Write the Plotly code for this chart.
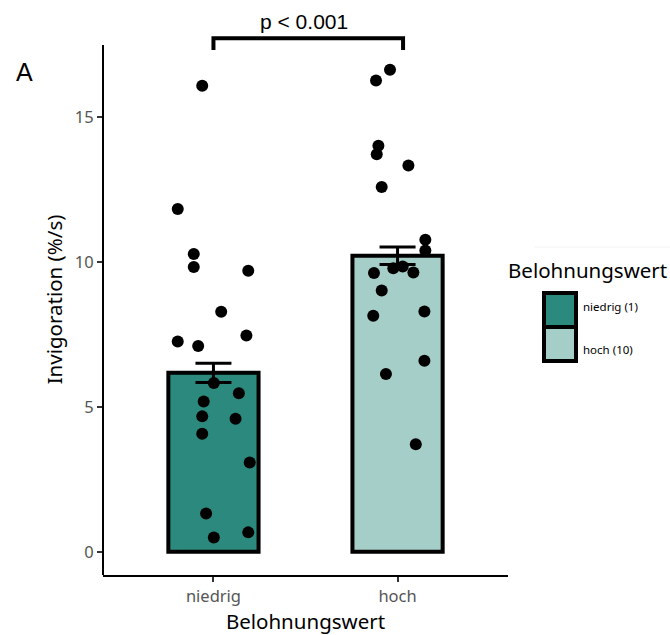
import plotly.graph_objects as go

# ---- data ----
categories = ["niedrig", "hoch"]
legend_labels = ["niedrig (1)", "hoch (10)"]
bar_means = [6.17, 10.21]
bar_se = [0.33, 0.30]
bar_colors = ["#2b8a7d", "#a6cec8"]

niedrig_offset = [-0.061, -0.194, -0.107, -0.107, 0.189, 0.042, -0.194, -0.083, 0.179, 0.002,
                  0.138, -0.053, -0.061, 0.120, -0.061, 0.197, -0.040, 0.189, 0.002]
niedrig_values = [16.07, 11.82, 10.27, 9.82, 9.69, 8.28, 7.25, 7.10, 7.46, 5.82,
                  5.47, 5.18, 4.67, 4.59, 4.07, 3.08, 1.32, 0.67, 0.49]
hoch_offset = [-0.041, -0.117, -0.104, -0.113, 0.059, -0.086, 0.151, 0.151, -0.023, 0.028,
               0.086, -0.128, -0.086, -0.132, 0.146, 0.146, -0.063, 0.099]
hoch_values = [16.62, 16.25, 14.00, 13.71, 13.32, 12.58, 10.76, 10.39, 9.78, 9.84,
               9.63, 9.61, 9.01, 8.14, 8.29, 6.59, 6.13, 3.71]

y_ticks = [0, 5, 10, 15]
p_text = "p < 0.001"
bracket_y = 17.71
bracket_foot = 17.30
bracket_x = [0, 1.03]

# ---- figure ----
W, H = 670, 635
ml, mr, mt, mb = 103, 162, 24, 60
plot_w = W - ml - mr
plot_h = H - mt - mb

def px_x(p):
    return (p - ml) / plot_w

def px_y(p):
    return (H - mb - p) / plot_h

fig = go.Figure()
xpos = list(range(len(categories)))
fig.add_trace(go.Bar(
    x=xpos, y=bar_means, width=0.49,
    marker=dict(color=bar_colors, line=dict(color="black", width=4)),
    error_y=dict(type="data", array=bar_se, visible=True, color="black",
                 thickness=3, width=18),
    showlegend=False, hoverinfo="skip",
))
fig.add_trace(go.Scatter(
    x=[0 + o for o in niedrig_offset], y=niedrig_values, mode="markers",
    marker=dict(color="black", size=12), showlegend=False, cliponaxis=False,
))
fig.add_trace(go.Scatter(
    x=[1 + o for o in hoch_offset], y=hoch_values, mode="markers",
    marker=dict(color="black", size=12), showlegend=False, cliponaxis=False,
))

tick_font = dict(family="Noto Sans, sans-serif", size=16.5, color="#555555")
title_font = dict(family="Noto Sans, sans-serif", size=20.5, color="black")

fig.update_layout(
    width=W, height=H,
    margin=dict(l=ml, r=mr, t=mt, b=mb),
    plot_bgcolor="white", paper_bgcolor="white",
    showlegend=False,
    xaxis=dict(
        range=[-0.6, 1.6], tickvals=xpos, ticktext=categories,
        showgrid=False, zeroline=False,
        showline=True, linecolor="black", linewidth=2,
        ticks="outside", ticklen=5, tickwidth=1.5, tickcolor="#333333",
        tickfont=tick_font,
        title=dict(text="Belohnungswert", font=title_font, standoff=0),
    ),
    yaxis=dict(
        range=[-0.8, 18.2], tickvals=y_ticks,
        showgrid=False, zeroline=False, showline=False,
        ticks="outside", ticklen=5, tickwidth=1.5, tickcolor="#333333",
        tickfont=tick_font,
        title=dict(text="Invigoration (%/s)", font=title_font, standoff=6),
    ),
)

# y axis line (stops at top of original panel)
fig.add_shape(type="line", xref="paper", yref="y", x0=0, x1=0, y0=-0.8, y1=17.48,
              line=dict(color="black", width=2))

# significance bracket
fig.add_shape(type="path", xref="x", yref="y",
              path=f"M {bracket_x[0]} {bracket_foot} L {bracket_x[0]} {bracket_y} "
                   f"L {bracket_x[1]} {bracket_y} L {bracket_x[1]} {bracket_foot}",
              line=dict(color="black", width=4))
fig.add_annotation(x=sum(bracket_x) / 2, y=bracket_y, xref="x", yref="y",
                   text=p_text, showarrow=False, yanchor="bottom", yshift=3, xshift=-4,
                   font=dict(family="Liberation Sans, Arial, sans-serif", size=21, color="black"))

# panel label
fig.add_annotation(x=px_x(24), y=px_y(72), xref="paper", yref="paper", text="A",
                   showarrow=False, xanchor="center", yanchor="middle",
                   font=dict(family="Liberation Sans, Arial, sans-serif", size=25, color="black"))

# manual legend
fig.add_shape(type="line", xref="paper", yref="paper", x0=px_x(535), x1=px_x(670),
              y0=px_y(247), y1=px_y(247), line=dict(color="#f2f2f2", width=1))
fig.add_annotation(x=px_x(587), y=px_y(270), xref="paper", yref="paper",
                   text="Belohnungswert", showarrow=False, xanchor="center", yanchor="middle",
                   font=dict(family="Noto Sans, sans-serif", size=20.5, color="black"))
sw_top = [293, 327]
text_y = [306, 349]
for i, lab in enumerate(legend_labels):
    fig.add_shape(type="rect", xref="paper", yref="paper",
                  x0=px_x(544), x1=px_x(576), y0=px_y(sw_top[i]), y1=px_y(sw_top[i] + 34),
                  fillcolor=bar_colors[i], line=dict(color="black", width=4))
    fig.add_annotation(x=px_x(581), y=px_y(text_y[i]), xref="paper", yref="paper",
                       text=lab, showarrow=False, xanchor="left", yanchor="middle",
                       font=dict(family="Noto Sans, sans-serif", size=11.5, color="black"))

fig.write_html("out.html")
